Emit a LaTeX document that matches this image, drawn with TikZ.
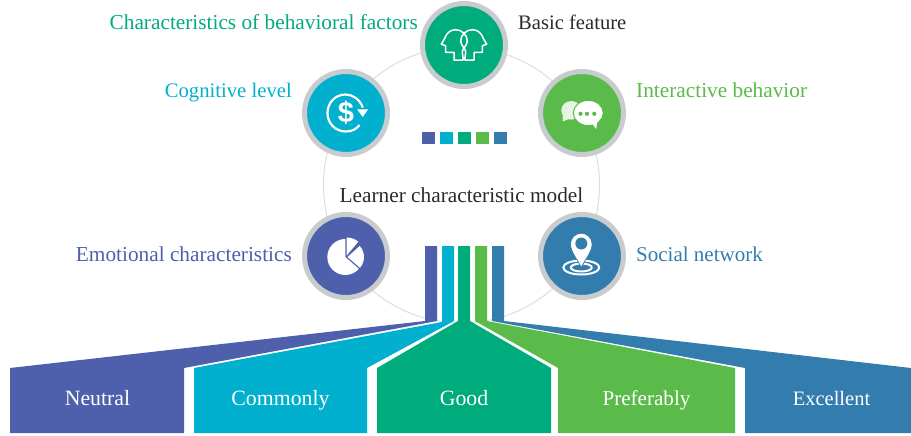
\documentclass[tikz,border=0pt]{standalone}
\usepackage{fontspec}
\setmainfont{Liberation Serif}
\newfontfamily\iconfont{Liberation Sans}[BoldFont={Liberation Sans Bold}]
\definecolor{cA}{HTML}{4E5FAB}
\definecolor{cB}{HTML}{00B0CE}
\definecolor{cC}{HTML}{00AB7C}
\definecolor{cD}{HTML}{5ABB4B}
\definecolor{cE}{HTML}{327DAD}
\definecolor{ringgray}{HTML}{C9CCCF}
\definecolor{thin}{HTML}{DCDDDE}
\definecolor{ink}{HTML}{2B2A2A}
\definecolor{backbub}{HTML}{E6F4E2}
\newcommand{\sz}[1]{\fontsize{#1}{24}\selectfont}
\tikzset{
 disc/.style={circle,draw=ringgray,line width=5pt,fill=#1,minimum size=83pt,inner sep=0pt},
 lab/.style={font=\sz{21.3},text=#1,inner sep=0pt},
 tag/.style={font=\sz{21.8},text=white,inner sep=0pt,anchor=base},
 iconline/.style={draw=white,line width=#1,line join=round},
 iconline/.default=1.5pt,
}
\begin{document}
\begin{tikzpicture}[x=1pt,y=-1pt]
\useasboundingbox (0,0) rectangle (911,436);
\node[circle,draw=thin,line width=1pt,minimum size=276pt,inner sep=0pt] (hub) at (461.5,185) {};
% trapezoids
\fill[cA] (10,433)--(10,368)--(425,321)--(425,246)--(437,246)--(437,321)--(184,368)--(184,433)--cycle;
\fill[cB] (194,433)--(194,368)--(442,322)--(442,246)--(454,246)--(454,321)--(367,368)--(367,433)--cycle;
\fill[cC] (377,433)--(377,368)--(458,321)--(458,246)--(470,246)--(470,321)--(551,368)--(551,433)--cycle;
\fill[cD] (558,433)--(558,368)--(475,321)--(475,246)--(487,246)--(487,321)--(735,368)--(735,433)--cycle;
\fill[cE] (745,433)--(745,368)--(492,321)--(492,246)--(504,246)--(504,321)--(911,368)--(911,433)--cycle;
\node[tag] (t1) at (97.5,405) {Neutral};
\node[tag] (t2) at (280.5,405) {Commonly};
\node[tag] (t3) at (464,405) {Good};
\node[tag,font=\sz{21.1}] (t4) at (646.5,405) {Preferably};
\node[tag,font=\sz{20.5}] (t5) at (831.5,405) {Excellent};
% chips
\fill[cA] (422,132) rectangle (435,144);
\fill[cB] (440,132) rectangle (453,144);
\fill[cC] (458,132) rectangle (471,144);
\fill[cD] (476,132) rectangle (489,144);
\fill[cE] (494,132) rectangle (507,144);
% discs
\node[disc=cC] (d1) at (464,45) {};
\node[disc=cB] (d2) at (346,113) {};
\node[disc=cD] (d3) at (582,113) {};
\node[disc=cA] (d4) at (346,256) {};
\node[disc=cE] (d5) at (582,256) {};
% heads icon
\begin{scope}[shift={(d1.center)}]
 \foreach \s in {1,-1}{
 \draw[iconline,xscale=\s] (-0.7,15.2)--(-10,15.2)--(-10,7.5)--(-18.3,7.5)--(-18.3,0.9)--(-22.7,-0.9)--(-19.3,-6.5)
   .. controls (-17.5,-12) and (-13.5,-15.3) .. (-8.5,-15.3)
   .. controls (-2,-15.3) and (3.3,-10) .. (3.3,-4)
   .. controls (3.3,1) and (-1.7,3) .. (-1.7,7)
   .. controls (-1.7,10) and (-0.7,12) .. (-0.7,15.2);
 }
\end{scope}
% dollar icon
\begin{scope}[shift={(d2.center)}]
 \draw[iconline=2.2pt] (16.8,-5.5) .. controls (13.8,-13.5) and (7,-18.5) .. (-0.5,-18.5)
   .. controls (-10.5,-18.5) and (-18.5,-10.5) .. (-18.5,0)
   .. controls (-18.5,10.5) and (-10.5,18.5) .. (0,18.5)
   .. controls (6,18.5) and (10.5,16) .. (13.5,12);
 \fill[white] (11.2,-3.5)--(22,-3.5)--(16.8,4)--cycle;
 \node[font=\iconfont\bfseries\sz{29},text=white,inner sep=0pt] (dollar) at (0,0) {\$};
\end{scope}
% chat icon
\begin{scope}[shift={(d3.center)}]
 \fill[backbub] (-10.7,-2.7) ellipse [x radius=10pt,y radius=9.3pt];
 \fill[backbub] (-19.5,3)--(-19,8.5)--(-12,5.5)--cycle;
 \fill[white,draw=cD,line width=1pt] (6.3,0) ellipse [x radius=15pt,y radius=12.6pt];
 \fill[white] (10,10)--(14.3,16.3)--(15,9)--cycle;
 \foreach \xx in {-1.5,5,12.3}{\fill[cD] (\xx,0.8) circle [radius=2.1pt];}
\end{scope}
% pie icon
\begin{scope}[shift={(d4.center)}]
 \fill[white] (-0.7,1) -- ++(0,-18) arc [start angle=90,end angle=319,radius=18pt] -- cycle;
 \fill[white] (0.7,-0.5) -- ++(0,-18) arc [start angle=90,end angle=50,radius=18pt] -- cycle;
 \fill[white] (1.5,1) ++(42:16.5pt) arc [start angle=42,end angle=-41,radius=16.5pt] -- (1.5,1) -- cycle;
\end{scope}
% pin icon
\begin{scope}[shift={(d5.center)}]
 \draw[iconline=2pt] (-0.7,11.5) ellipse [x radius=18pt,y radius=7pt];
 \draw[iconline=2pt] (-0.7,11.5) ellipse [x radius=10.5pt,y radius=4pt];
 \fill[white,draw=cE,line width=0.7pt] (-0.7,11.5) .. controls (-4,4) and (-11.5,-4) .. (-11.5,-12)
   .. controls (-11.5,-18) and (-6.5,-22.8) .. (-0.7,-22.8)
   .. controls (5.1,-22.8) and (10.1,-18) .. (10.1,-12)
   .. controls (10.1,-4) and (2.6,4) .. (-0.7,11.5) -- cycle;
 \fill[cE] (-0.7,-12.5) circle [radius=6pt];
\end{scope}
% labels
\node[lab=cC,anchor=base east] (l1) at (418,30) {Characteristics of behavioral factors};
\node[lab=ink,anchor=base west,font=\sz{20.6}] (l0) at (518,30) {Basic feature};
\node[lab=cB,anchor=base east,font=\sz{20.7}] (l2) at (292,98) {Cognitive level};
\node[lab=cD,anchor=base west] (l3) at (636,98) {Interactive behavior};
\node[lab=ink,anchor=base] (l6) at (461.5,202) {Learner characteristic model};
\node[lab=cA,anchor=base east] (l4) at (292,261) {Emotional characteristics};
\node[lab=cE,anchor=base west,font=\sz{21}] (l5) at (636,261) {Social network};
\end{tikzpicture}
\end{document}
